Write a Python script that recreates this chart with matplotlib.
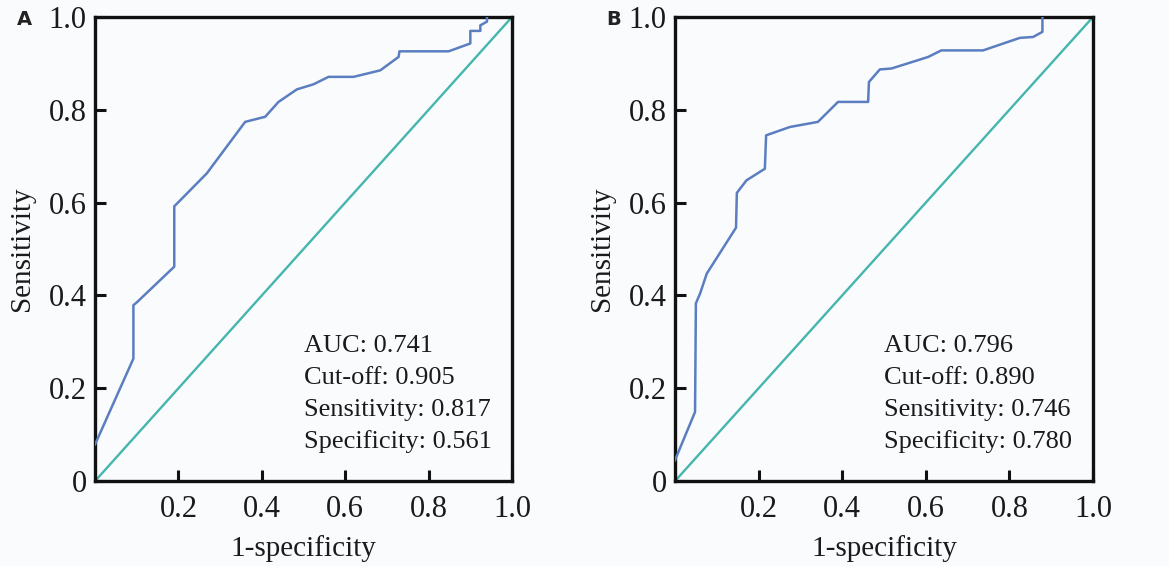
import matplotlib.pyplot as plt

plt.rcParams['font.family'] = ['Liberation Serif', 'DejaVu Serif']

# ROC curve A (1-specificity, sensitivity)
fpr_a = [0.0, 0.092, 0.092, 0.10, 0.19, 0.19, 0.268, 0.36, 0.408, 0.44, 0.484,
         0.524, 0.56, 0.62, 0.684, 0.728, 0.73, 0.848, 0.90, 0.90, 0.924, 0.924,
         0.94, 0.94]
tpr_a = [0.079, 0.264, 0.379, 0.385, 0.462, 0.592, 0.663, 0.774, 0.785, 0.817,
         0.844, 0.855, 0.871, 0.871, 0.885, 0.914, 0.926, 0.926, 0.943, 0.970,
         0.970, 0.982, 0.99, 1.0]

# ROC curve B
fpr_b = [0.0, 0.048, 0.05, 0.06, 0.076, 0.146, 0.148, 0.171, 0.215, 0.218, 0.275,
         0.342, 0.39, 0.462, 0.464, 0.49, 0.518, 0.606, 0.637, 0.737, 0.825,
         0.857, 0.879, 0.879]
tpr_b = [0.045, 0.149, 0.383, 0.404, 0.447, 0.546, 0.621, 0.648, 0.673, 0.745,
         0.763, 0.774, 0.817, 0.817, 0.86, 0.887, 0.889, 0.914, 0.928, 0.928,
         0.955, 0.957, 0.968, 1.0]

stats_a = ["AUC: 0.741", "Cut-off: 0.905", "Sensitivity: 0.817", "Specificity: 0.561"]
stats_b = ["AUC: 0.796", "Cut-off: 0.890", "Sensitivity: 0.746", "Specificity: 0.780"]

xticks = [0.2, 0.4, 0.6, 0.8, 1.0]
yticks = [0, 0.2, 0.4, 0.6, 0.8, 1.0]
ytick_labels = ["0", "0.2", "0.4", "0.6", "0.8", "1.0"]

bg = '#fafbfd'
fig = plt.figure(figsize=(11.69, 5.66), dpi=100, facecolor=bg)

panels = [
    ("A", [0.0813, 0.150, 0.3567, 0.820], fpr_a, tpr_a, stats_a, 0.0145),
    ("B", [0.5774, 0.150, 0.3576, 0.820], fpr_b, tpr_b, stats_b, 0.519),
]

for name, rect, fpr, tpr, stats, lx in panels:
    ax = fig.add_axes(rect, facecolor=bg)
    ax.plot([0, 1], [0, 1], color='#45b5ad', lw=1.7, zorder=2)
    ax.plot(fpr, tpr, color='#5b7ec0', lw=1.8, zorder=3)
    ax.set_xlim(0, 1)
    ax.set_ylim(0, 1)
    ax.set_xticks(xticks)
    ax.set_xticklabels(["0.2", "0.4", "0.6", "0.8", "1.0"])
    ax.set_yticks(yticks)
    ax.set_yticklabels(ytick_labels)
    ax.tick_params(direction='in', length=8, width=2.2, labelsize=22,
                   color='#111111', labelcolor='#1a1a1a')
    ax.tick_params(axis='x', pad=10)
    ax.tick_params(axis='y', pad=6)
    for s in ax.spines.values():
        s.set_linewidth(2.4)
        s.set_color('#111111')
    ax.set_xlabel("1-specificity", fontsize=21, labelpad=8, color='#1a1a1a')
    ax.set_ylabel("Sensitivity", fontsize=21, labelpad=10, color='#1a1a1a')
    for i, line in enumerate(stats):
        ax.text(0.50, 0.279 - i * 0.0695, line, fontsize=19, color='#1a1a1a',
                ha='left', va='baseline')
    fig.text(lx, 0.965, name, fontsize=14, fontweight='bold',
             family='DejaVu Sans', color='#222222', ha='left', va='center')

fig.savefig("out.png", dpi=100, facecolor=bg)
